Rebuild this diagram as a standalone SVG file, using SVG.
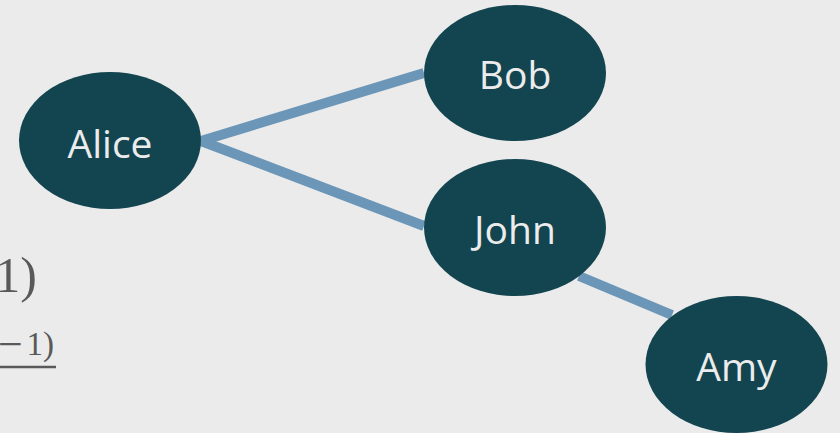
<svg xmlns="http://www.w3.org/2000/svg" width="840" height="433" viewBox="0 0 840 433">
  <style>
    .node { fill: #134550; }
    .label { font-family: "Open Sans", "Noto Sans", sans-serif; font-size: 39px; fill: #ececec; text-anchor: middle; }
    .edge { stroke: #6b96b7; stroke-width: 10; fill: none; }
    .math { font-family: "Liberation Serif", "DejaVu Serif", serif; fill: #595959; }
  </style>
  <rect width="840" height="433" fill="#ebebeb"/>

  <!-- partial formula at the left margin -->
  <g id="formula">
    <text class="math" x="37" y="292" font-size="50" text-anchor="end">1)</text>
    <text class="math" x="-2" y="359" font-size="44">−</text>
    <text class="math" x="54" y="355" font-size="33" text-anchor="end">1)</text>
    <line x1="0" y1="367" x2="56" y2="367" stroke="#595959" stroke-width="2.5"/>
  </g>

  <g id="connectors">
    <line class="edge" x1="201" y1="141" x2="424" y2="73"/>
    <line class="edge" x1="201" y1="141" x2="424" y2="226"/>
    <line class="edge" x1="579" y1="276" x2="672" y2="315"/>
  </g>

  <g id="alice">
    <ellipse class="node" cx="110" cy="140.5" rx="91" ry="68.5"/>
    <text class="label" x="110" y="158">Alice</text>
  </g>
  <g id="bob">
    <ellipse class="node" cx="515" cy="73" rx="91" ry="68"/>
    <text class="label" x="515" y="89">Bob</text>
  </g>
  <g id="john">
    <ellipse class="node" cx="515" cy="227.5" rx="91" ry="68.5"/>
    <text class="label" x="515" y="244">John</text>
  </g>
  <g id="amy">
    <ellipse class="node" cx="736.5" cy="364.5" rx="91" ry="68.5"/>
    <text class="label" x="736.5" y="381">Amy</text>
  </g>
</svg>
